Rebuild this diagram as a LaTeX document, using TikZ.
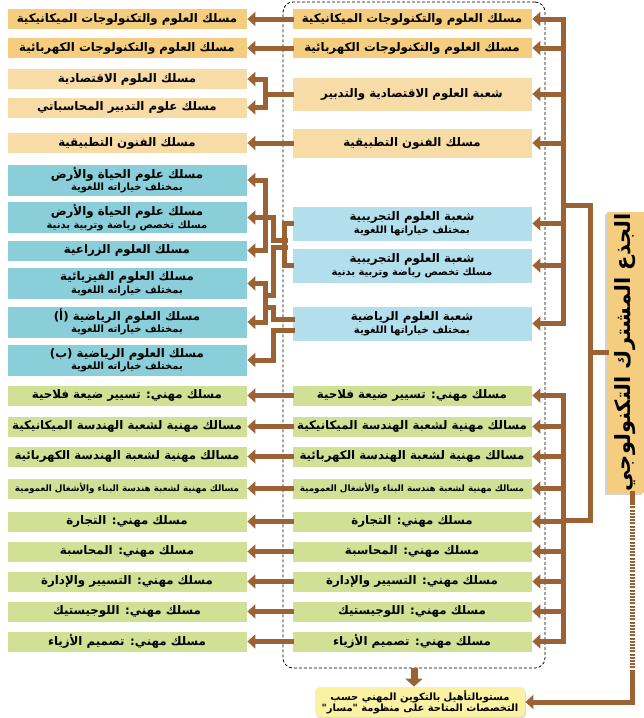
\documentclass[tikz,border=0pt]{standalone}
\usepackage{fontspec}
\TeXXeTstate=1
\newfontfamily\arabicfont[Script=Arabic]{DejaVu Sans}
\usetikzlibrary{arrows.meta,shadows}
\definecolor{goldfill}{HTML}{F5CD7E}
\definecolor{sandfill}{HTML}{F8DCA8}
\definecolor{tealfill}{HTML}{8ACED9}
\definecolor{skyfill}{HTML}{B3DFEC}
\definecolor{leaffill}{HTML}{D1E095}
\definecolor{lemonfill}{HTML}{FBF1A3}
\definecolor{bark}{HTML}{9B6234}
\newcommand{\artext}[1]{\beginR #1\endR}
\newcommand{\subline}[1]{{\fontsize{10}{11}\selectfont\beginR #1\endR}}
\tikzset{
  box/.style={rectangle, draw=white, line width=0.8pt, minimum width=240pt, minimum height=21pt, inner sep=0.5pt, align=center, font=\arabicfont\bfseries\fontsize{11.8}{12.5}\selectfont},
  goldbox/.style={box, fill=goldfill},
  sandbox/.style={box, fill=sandfill},
  tealbox/.style={box, fill=tealfill, minimum height=32pt},
  skybox/.style={box, fill=skyfill, minimum height=35pt},
  leafbox/.style={box, fill=leaffill},
  bar/.style={draw=bark, line width=5pt, line cap=rect},
  link/.style={bar, -{Triangle[length=8pt,width=14pt]}},
  drop/.style={draw=bark, line width=7pt, -{Triangle[length=8pt,width=17pt]}}
}
\begin{document}
\begin{tikzpicture}[x=1pt,y=-1pt]
\useasboundingbox (0,0) rectangle (644,718);
\node[draw, densely dashed, line width=0.8pt, rounded corners=10pt, minimum width=262pt, minimum height=666pt] (frame) at (414,335) {};
% top rows
\node[goldbox] (mechL) at (127,19) {\artext{مسلك العلوم والتكنولوجات الميكانيكية}};
\node[goldbox] (mechM) at (412,19) {\artext{مسلك العلوم والتكنولوجات الميكانيكية}};
\node[goldbox] (elecL) at (127,48) {\artext{مسلك العلوم والتكنولوجات الكهربائية}};
\node[goldbox] (elecM) at (412,48) {\artext{مسلك العلوم والتكنولوجات الكهربائية}};
\node[sandbox] (ecoA) at (127,79) {\artext{مسلك العلوم الاقتصادية}};
\node[sandbox] (ecoB) at (127,107.5) {\artext{مسلك علوم التدبير المحاسباتي}};
\node[sandbox, minimum height=34pt] (ecoM) at (412,94) {\artext{شعبة العلوم الاقتصادية والتدبير}};
\node[sandbox] (artL) at (127,143) {\artext{مسلك الفنون التطبيقية}};
\node[sandbox, minimum height=30pt] (artM) at (412,143) {\artext{مسلك الفنون التطبيقية}};
% sciences
\node[tealbox] (lifeL) at (127,180) {\artext{مسلك علوم الحياة والأرض}\\\subline{بمختلف خياراته اللغوية}};
\node[tealbox] (sportL) at (127,217.5) {\artext{مسلك علوم الحياة والأرض}\\\subline{مسلك تخصص رياضة وتربية بدنية}};
\node[tealbox, minimum height=21pt] (agriL) at (127,250.5) {\artext{مسلك العلوم الزراعية}};
\node[tealbox] (physL) at (127,283.5) {\artext{مسلك العلوم الفيزيائية}\\\subline{بمختلف خياراته اللغوية}};
\node[tealbox] (mathAL) at (127,322) {\artext{مسلك العلوم الرياضية (أ)}\\\subline{بمختلف خياراته اللغوية}};
\node[tealbox] (mathBL) at (127,360) {\artext{مسلك العلوم الرياضية (ب)}\\\subline{بمختلف خياراته اللغوية}};
\node[skybox] (expM) at (412,223.5) {\artext{شعبة العلوم التجريبية}\\\subline{بمختلف خياراتها اللغوية}};
\node[skybox] (expSM) at (412,265.5) {\artext{شعبة العلوم التجريبية}\\\subline{مسلك تخصص رياضة وتربية بدنية}};
\node[skybox] (mathM) at (412,323.5) {\artext{شعبة العلوم الرياضية}\\\subline{بمختلف خياراتها اللغوية}};
% vocational rows
\node[leafbox] (farmL) at (127,395.5) {\artext{مسلك مهني: تسيير ضيعة فلاحية}};
\node[leafbox] (farmM) at (412,395.5) {\artext{مسلك مهني: تسيير ضيعة فلاحية}};
\node[leafbox] (gmecL) at (127,426.5) {\artext{مسالك مهنية لشعبة الهندسة الميكانيكية}};
\node[leafbox] (gmecM) at (412,426.5) {\artext{مسالك مهنية لشعبة الهندسة الميكانيكية}};
\node[leafbox] (gelcL) at (127,456.5) {\artext{مسالك مهنية لشعبة الهندسة الكهربائية}};
\node[leafbox] (gelcM) at (412,456.5) {\artext{مسالك مهنية لشعبة الهندسة الكهربائية}};
\node[leafbox, font=\arabicfont\bfseries\fontsize{8.8}{10}\selectfont] (buildL) at (127,488.5) {\artext{مسالك مهنية لشعبة هندسة البناء والأشغال العمومية}};
\node[leafbox, font=\arabicfont\bfseries\fontsize{8.8}{10}\selectfont] (buildM) at (412,488.5) {\artext{مسالك مهنية لشعبة هندسة البناء والأشغال العمومية}};
\node[leafbox] (tradeL) at (127,521.5) {\artext{مسلك مهني: التجارة}};
\node[leafbox] (tradeM) at (412,521.5) {\artext{مسلك مهني: التجارة}};
\node[leafbox] (acctL) at (127,551.5) {\artext{مسلك مهني: المحاسبة}};
\node[leafbox] (acctM) at (412,551.5) {\artext{مسلك مهني: المحاسبة}};
\node[leafbox] (mgmtL) at (127,581.5) {\artext{مسلك مهني: التسيير والإدارة}};
\node[leafbox] (mgmtM) at (412,581.5) {\artext{مسلك مهني: التسيير والإدارة}};
\node[leafbox] (logiL) at (127,611.5) {\artext{مسلك مهني: اللوجيستيك}};
\node[leafbox] (logiM) at (412,611.5) {\artext{مسلك مهني: اللوجيستيك}};
\node[leafbox] (fashL) at (127,641.5) {\artext{مسلك مهني: تصميم الأزياء}};
\node[leafbox] (fashM) at (412,641.5) {\artext{مسلك مهني: تصميم الأزياء}};
% common core and qualification
\node[box, fill=goldfill, draw=none, minimum width=37pt, minimum height=281pt, drop shadow={shadow xshift=-2pt, shadow yshift=-2pt, opacity=0.35}, font=\arabicfont\bfseries\fontsize{21}{24}\selectfont] (core) at (625.5,352.5) {\rotatebox{90}{\artext{الجذع المشترك التكنولوجي}}};
\node[box, fill=lemonfill, draw=none, rounded corners=5pt, minimum width=210pt, minimum height=30pt, drop shadow={shadow xshift=1pt, shadow yshift=-1.5pt, opacity=0.3}, font=\arabicfont\bfseries\fontsize{10}{11.5}\selectfont] (qual) at (420,702) {\artext{مستوىالتأهيل بالتكوين المهني حسب}\\\artext{التخصصات المتاحة على منظومة "مسار"}};
% trunk and buses
\coordinate (busUp) at (563,19);
\coordinate (busUpEnd) at (563,323.5);
\coordinate (busLo) at (563,395.5);
\coordinate (busLoEnd) at (563,641.5);
\coordinate (trunkTop) at (590,205);
\coordinate (trunkBot) at (590,520);
\draw[bar] (busUp) -- (busUpEnd);
\draw[bar] (busLo) -- (busLoEnd);
\draw[bar] (busUp |- trunkTop) -- (trunkTop) -- (trunkBot) -- (busLo |- trunkBot);
\draw[bar] (trunkTop |- core.west) -- (core.west);
\draw[link] (busUp |- mechM.east) -- (mechM.east);
\draw[link] (busUp |- elecM.east) -- (elecM.east);
\draw[link] (busUp |- ecoM.east) -- (ecoM.east);
\draw[link] (busUp |- artM.east) -- (artM.east);
\draw[link] (busUp |- expM.east) -- (expM.east);
\draw[link] (busUp |- expSM.east) -- (expSM.east);
\draw[link] (busUp |- mathM.east) -- (mathM.east);
\draw[link] (busLo |- farmM.east) -- (farmM.east);
\draw[link] (busLo |- gmecM.east) -- (gmecM.east);
\draw[link] (busLo |- gelcM.east) -- (gelcM.east);
\draw[link] (busLo |- buildM.east) -- (buildM.east);
\draw[link] (busLo |- tradeM.east) -- (tradeM.east);
\draw[link] (busLo |- acctM.east) -- (acctM.east);
\draw[link] (busLo |- mgmtM.east) -- (mgmtM.east);
\draw[link] (busLo |- logiM.east) -- (logiM.east);
\draw[link] (busLo |- fashM.east) -- (fashM.east);
% middle to left
\draw[link] (mechM.west) -- (mechL.east);
\draw[link] (elecM.west) -- (elecL.east);
\coordinate (jEco) at (265,94);
\draw[bar] (ecoM.west) -- (jEco);
\draw[bar] (jEco |- ecoA.east) -- (jEco |- ecoB.east);
\draw[link] (jEco |- ecoA.east) -- (ecoA.east);
\draw[link] (jEco |- ecoB.east) -- (ecoB.east);
\draw[link] (artM.west) -- (artL.east);
\coordinate (jLife) at (265,180);
\coordinate (jAgri) at (265,250.5);
\coordinate (jSport) at (273,217.5);
\coordinate (jExp) at (285,240);
\coordinate (jExpB) at (285,247);
\coordinate (jPhys) at (265,295);
\coordinate (jPhysT) at (265,283.5);
\coordinate (jMathA) at (265,322);
\coordinate (jMathMid) at (265,307);
\coordinate (jMathIn) at (292,319);
\coordinate (jMathBIn) at (292,330);
\draw[bar] (jLife) -- (jAgri);
\draw[link] (jLife) -- (lifeL.east);
\draw[link] (jAgri) -- (agriL.east);
\draw[link] (jSport) -- (sportL.east);
\draw[bar] (jSport) |- (jExp);
\draw[bar] (expM.west) -- ++(-7,0) |- (expSM.west);
\draw[bar] (jExpB) -- (jExpB -| jSport) |- (jPhys);
\draw[bar] (jPhysT) -- (jMathA);
\draw[link] (jPhysT) -- (physL.east);
\draw[link] (jMathA) -- (mathAL.east);
\draw[bar] (jMathIn) -- (jMathIn -| jSport) |- (jMathMid);
\draw[link] (jMathBIn) -- (jMathBIn -| jSport) |- (mathBL.east);
\draw[link] (farmM.west) -- (farmL.east);
\draw[link] (gmecM.west) -- (gmecL.east);
\draw[link] (gelcM.west) -- (gelcL.east);
\draw[link] (buildM.west) -- (buildL.east);
\draw[link] (tradeM.west) -- (tradeL.east);
\draw[link] (acctM.west) -- (acctL.east);
\draw[link] (mgmtM.west) -- (mgmtL.east);
\draw[link] (logiM.west) -- (logiL.east);
\draw[link] (fashM.west) -- (fashL.east);
% way down to the qualification
\coordinate (stemA) at (632,500);
\coordinate (stemB) at (632,672);
\draw[bar] (stemA |- core.south) -- (stemA);
\draw[bar, line cap=butt, dash pattern=on 2pt off 1.2pt] (stemA) -- (stemB);
\draw[link] (stemB) |- (qual.east);
\draw[drop] (frame.south) -- (frame.south |- qual.north);
\end{tikzpicture}
\end{document}
